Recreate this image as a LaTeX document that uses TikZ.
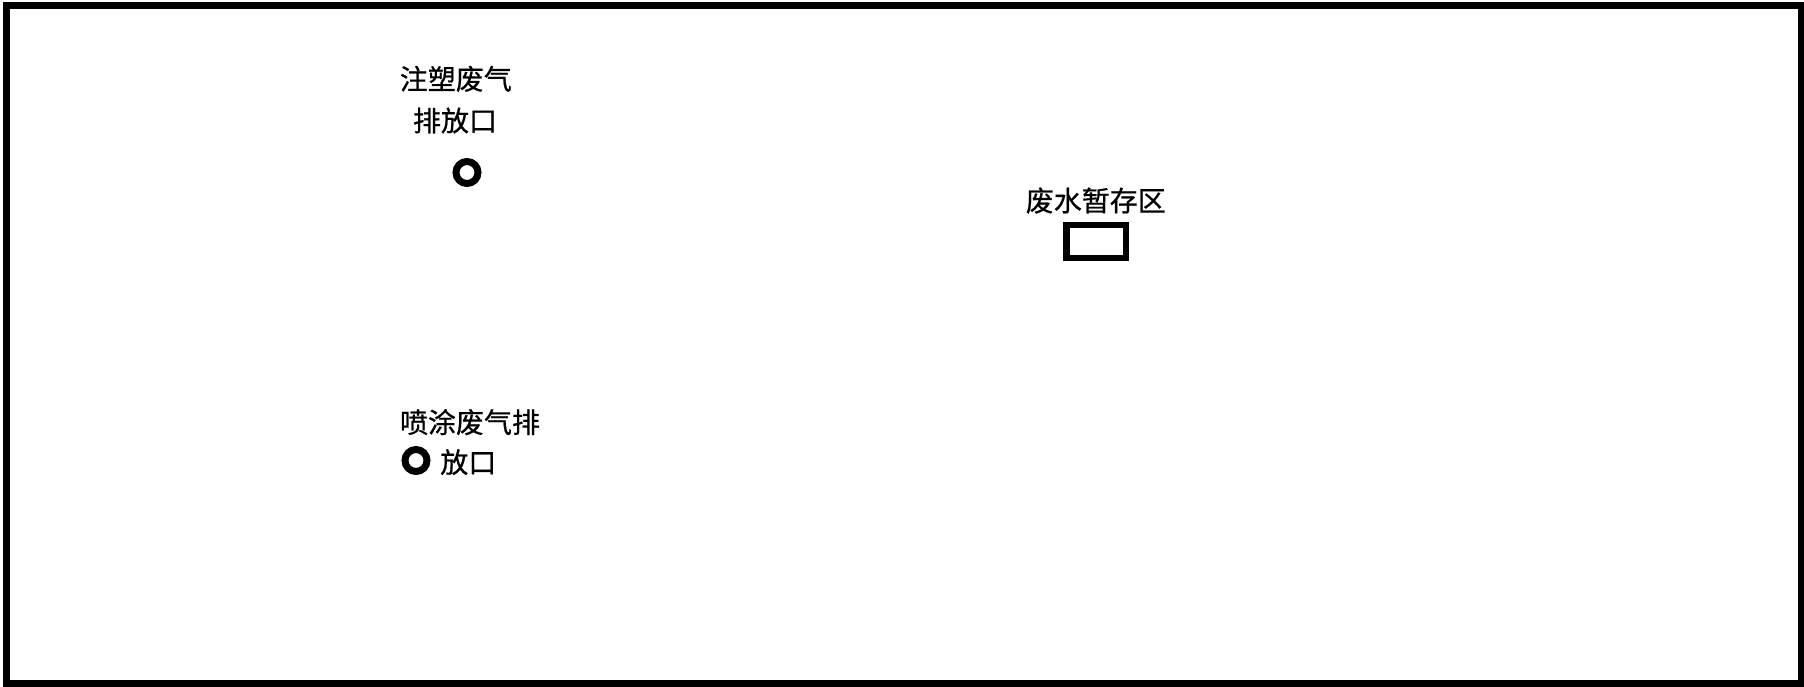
\documentclass[tikz,border=0pt]{standalone}
\usepackage{fontspec}
\newfontfamily\cjk[FakeBold=0.7]{Noto Sans CJK SC}
\begin{document}
\begin{tikzpicture}[x=1pt,y=-1pt,
  lbl/.style={anchor=base,inner sep=0pt,font=\cjk\fontsize{28}{30}\selectfont},
  outlet/.style={circle,draw,line width=7pt,minimum size=22pt,inner sep=0pt},
  store/.style={rectangle,draw,line width=6.5pt,minimum width=59.5pt,minimum height=33pt,inner sep=0pt}]
\useasboundingbox (0,0) rectangle (1804,687);
\draw[line width=6.5pt] (6.5,5.5) rectangle (1801.5,683.5);
\node[lbl] (t1a) at (455.8,89.5) {注塑废气};
\node[lbl] (t1b) at (455,131.2) {排放口};
\node[outlet] (o1) at (467,172.5) {};
\node[lbl] (t2a) at (470,432.8) {喷涂废气排};
\node[lbl] (t2b) at (468.3,472.8) {放口};
\node[outlet] (o2) at (416,460.5) {};
\node[lbl] (t3) at (1095.8,211.2) {废水暂存区};
\node[store] (r1) at (1096.3,241.5) {};
\end{tikzpicture}
\end{document}
